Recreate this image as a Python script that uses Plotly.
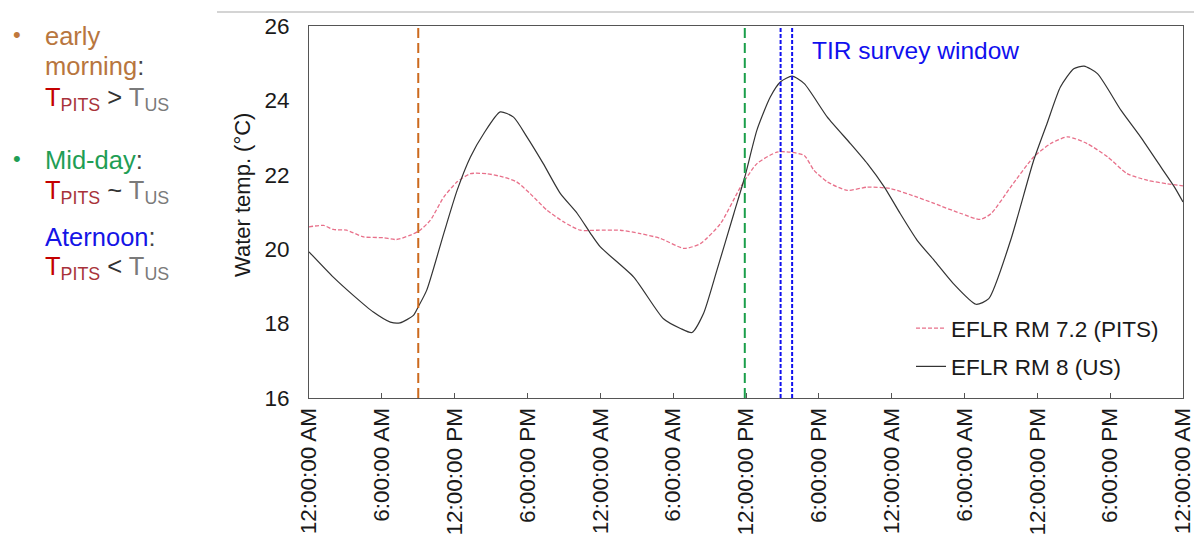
import plotly.graph_objects as go

# ---- data (hours since start, 3 days) ----
us_hours = [0, 2.0, 3.65, 5.3, 6.7, 7.5, 8.6, 9.0, 9.7, 11.1, 12.2, 13.3, 14.4, 15.75, 16.85, 17.95,
            19.3, 20.7, 22.1, 23.2, 24.0, 26.75, 29.2, 30.6, 31.55, 32.5, 33.6, 35.0, 35.9, 36.9,
            38.0, 38.85, 39.8, 40.8, 42.7, 44.6, 46.0, 47.4, 48.7, 50.1, 51.5, 53.1, 54.95, 56.0,
            57.8, 59.7, 60.8, 61.9, 63.0, 63.85, 64.95, 66.9, 68.5, 70.2, 71.3, 72.0]
us_temp = [19.93, 19.25, 18.76, 18.31, 18.04, 18.02, 18.22, 18.45, 18.9, 20.42, 21.58, 22.48, 23.11,
           23.69, 23.55, 23.02, 22.3, 21.5, 20.96, 20.42, 20.06, 19.25, 18.13, 17.87, 17.76, 18.27,
           19.43, 20.96, 21.94, 23.2, 24.09, 24.5, 24.65, 24.45, 23.55, 22.84, 22.3, 21.67, 20.96,
           20.24, 19.7, 19.07, 18.52, 18.67, 20.24, 22.39, 23.38, 24.36, 24.85, 24.92, 24.72, 23.73,
           23.02, 22.2, 21.67, 21.27]

pits_hours = [0, 1.2, 2.0, 3.1, 4.5, 6.1, 7.2, 8.3, 9.15, 10.0, 11.1, 12.2, 13.3, 14.65, 16.0, 17.1,
              18.2, 19.6, 21.0, 22.35, 23.7, 25.65, 27.3, 28.95, 30.9, 32.25, 33.9, 35.55, 36.9,
              38.55, 39.65, 40.8, 41.6, 42.7, 44.35, 46.0, 47.9, 50.1, 51.5, 53.7, 55.3, 56.2,
              57.8, 59.7, 61.1, 62.5, 64.1, 65.8, 67.4, 69.1, 70.7, 72.0]
pits_temp = [20.6, 20.64, 20.53, 20.51, 20.33, 20.31, 20.26, 20.37, 20.51, 20.78, 21.4, 21.81, 22.03,
             22.03, 21.94, 21.81, 21.5, 21.05, 20.73, 20.51, 20.51, 20.51, 20.42, 20.29, 20.02, 20.15,
             20.69, 21.67, 22.3, 22.61, 22.61, 22.52, 22.12, 21.81, 21.58, 21.67, 21.63, 21.4, 21.23,
             20.96, 20.8, 20.96, 21.67, 22.48, 22.84, 23.02, 22.84, 22.48, 22.03, 21.85, 21.76, 21.7]

tick_hours = [0, 6, 12, 18, 24, 30, 36, 42, 48, 54, 60, 66, 72]
tick_labels = ["12:00:00 AM", "6:00:00 AM", "12:00:00 PM", "6:00:00 PM"] * 3 + ["12:00:00 AM"]
y_ticks = [16, 18, 20, 22, 24, 26]

early_morning_hour = 9.0
midday_hour = 35.9
tir_window_hours = [38.85, 39.8]

series_names = ["EFLR RM 7.2 (PITS)", "EFLR RM 8 (US)"]

FONT = "Liberation Sans, Arial, sans-serif"

W, H = 1194, 535
L, R, T, B = 309, 1183, 26, 398


def px(xp):
    return (xp - L) / (R - L)


def py(yp):
    return (B - yp) / (B - T)


fig = go.Figure()
fig.add_trace(go.Scatter(x=pits_hours, y=pits_temp, mode="lines", name=series_names[0],
                         legendgroup="a",
                         line=dict(color="#e8708a", width=1.3, dash="4px,2px",
                                   shape="spline", smoothing=0.6)))
fig.add_trace(go.Scatter(x=us_hours, y=us_temp, mode="lines", name=series_names[1],
                         legendgroup="b",
                         line=dict(color="#333333", width=1.2, shape="spline", smoothing=0.6)))

shapes = []
shapes.append(dict(type="line", xref="x", yref="paper", x0=early_morning_hour, x1=early_morning_hour,
                   y0=0, y1=1, line=dict(color="#cc6a1e", width=2, dash="10px,5px")))
shapes.append(dict(type="line", xref="x", yref="paper", x0=midday_hour, x1=midday_hour,
                   y0=0, y1=1, line=dict(color="#1a9e4a", width=2, dash="10px,5px")))
for h in tir_window_hours:
    shapes.append(dict(type="line", xref="x", yref="paper", x0=h, x1=h, y0=0, y1=1,
                       line=dict(color="#1010ee", width=2, dash="4px,2px")))
# slide separator line at top
shapes.append(dict(type="line", xref="paper", yref="paper", x0=px(217), x1=px(1194),
                   y0=py(12), y1=py(12), line=dict(color="#d4d4d4", width=2)))

annotations = []
annotations.append(dict(text="TIR survey window", x=41.3, y=25.35, xref="x", yref="y",
                        xanchor="left", yanchor="middle", showarrow=False,
                        font=dict(family=FONT, size=24.5, color="#1010ee")))
# y-axis title (placed as in the reference, above the axis centre)
annotations.append(dict(text="Water temp. (°C)", x=px(242), y=py(195), xref="paper", yref="paper",
                        xanchor="center", yanchor="middle", showarrow=False, textangle=-90,
                        font=dict(family=FONT, size=22, color="#1a1a1a")))

LF = 25.5
red_t = "<span style='color:#c40000'>T</span><sub><span style='color:#a8323a'>PITS</span></sub>"
gray_t = "<span style='color:#7a7a7a'>T<sub>US</sub></span>"
left_lines = [
    ("<span style='color:#c0783c'>•</span>", 11, 35, 22),
    ("<span style='color:#b8763e'>early</span>", 43, 36, LF),
    ("<span style='color:#b8763e'>morning</span><span style='color:#444'>:</span>", 43, 66, LF),
    (red_t + "<span style='color:#333'> > </span>" + gray_t, 43, 99, LF),
    ("<span style='color:#1f9e55'>•</span>", 11, 158, 22),
    ("<span style='color:#1f9e55'>Mid-day</span><span style='color:#444'>:</span>", 43, 160, LF),
    (red_t + "<span style='color:#333'> ~ </span>" + gray_t, 43, 192, LF),
    ("<span style='color:#1515e6'>Aternoon</span><span style='color:#444'>:</span>", 43, 237, LF),
    (red_t + "<span style='color:#333'> < </span>" + gray_t, 43, 268, LF),
]
for txt, xp, yp, fs in left_lines:
    annotations.append(dict(text=txt, x=px(xp), y=py(yp), xref="paper", yref="paper",
                            xanchor="left", yanchor="middle", showarrow=False,
                            font=dict(family=FONT, size=fs)))

TF = 22.5
fig.update_layout(
    width=W, height=H,
    margin=dict(l=L, r=W - R, t=T, b=H - B, autoexpand=False),
    paper_bgcolor="white", plot_bgcolor="white",
    font=dict(family=FONT, size=TF, color="#1a1a1a"),
    showlegend=True,
    legend=dict(x=px(911), y=py(307), xanchor="left", yanchor="top",
                bgcolor="rgba(0,0,0,0)", font=dict(family=FONT, size=TF, color="#1a1a1a"),
                traceorder="grouped", tracegroupgap=6),
    shapes=shapes,
    annotations=annotations,
    xaxis=dict(range=[0, 72], tickmode="array", tickvals=tick_hours, ticktext=tick_labels,
               tickangle=-90, ticks="inside", ticklen=5, tickcolor="#555",
               showline=True, linecolor="#555", linewidth=1, mirror=True,
               showgrid=False, zeroline=False, automargin=False, ticklabeloverflow="allow",
               tickfont=dict(family=FONT, size=TF, color="#1a1a1a")),
    yaxis=dict(range=[16, 26], tickmode="array", tickvals=y_ticks,
               ticks="", showline=True, linecolor="#555", linewidth=1, mirror=True,
               showgrid=False, zeroline=False, ticklabelstandoff=14, automargin=False,
               tickfont=dict(family=FONT, size=TF, color="#1a1a1a")),
)

fig.write_html("out.html", config={"displayModeBar": False},
               post_script="document.body.style.margin='0px';document.body.style.overflow='hidden';")
